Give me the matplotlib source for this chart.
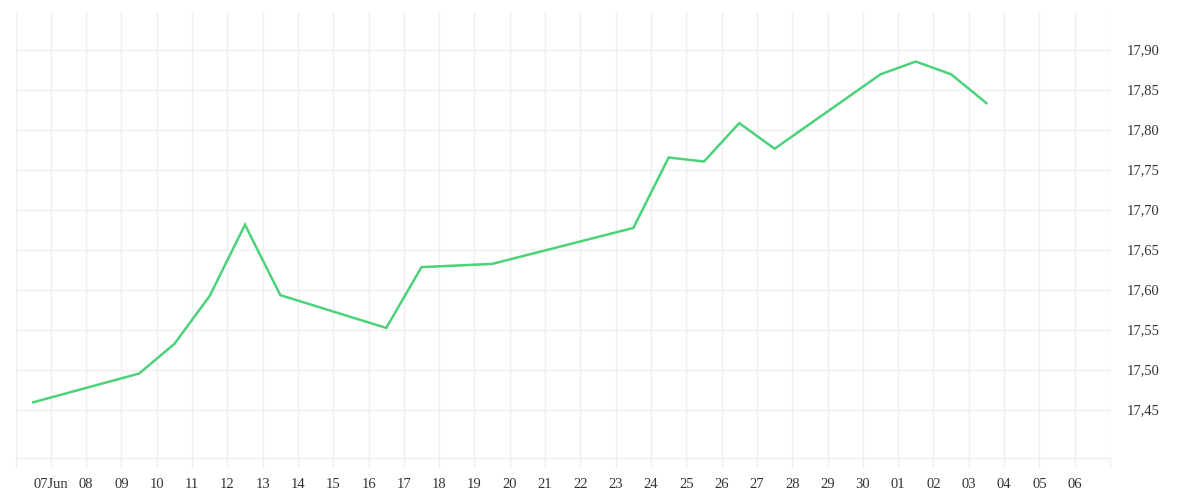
import pandas as pd
import matplotlib
matplotlib.use('Agg')
import matplotlib.pyplot as plt
import matplotlib.dates as mdates

# 数据（从图上读出来的）
dates = ['2025-06-06', '2025-06-09', '2025-06-10', '2025-06-11', '2025-06-12',
         '2025-06-13', '2025-06-16', '2025-06-17', '2025-06-19', '2025-06-23',
         '2025-06-24', '2025-06-25', '2025-06-26', '2025-06-27', '2025-06-30',
         '2025-07-01', '2025-07-02', '2025-07-03']
values = [17.459, 17.495, 17.532, 17.592, 17.681,
          17.593, 17.552, 17.628, 17.632, 17.677,
          17.765, 17.760, 17.808, 17.776, 17.869,
          17.885, 17.869, 17.833]
y_ticks = [17.45, 17.50, 17.55, 17.60, 17.65, 17.70, 17.75, 17.80, 17.85, 17.90]
y_labels = ['17,45', '17,50', '17,55', '17,60', '17,65', '17,70', '17,75', '17,80', '17,85', '17,90']

# 每个点在当天中午
x = pd.to_datetime(dates) + pd.Timedelta(hours=12)

# 横轴刻度：每天一个，首尾不标
tick_days = pd.date_range('2025-06-06', '2025-07-07', freq='D')
tick_labels = [d.strftime('%d') for d in tick_days]
tick_labels[1] = '07Jun'
tick_labels[0] = ''
tick_labels[-1] = ''

plt.rcParams['font.family'] = ['Liberation Serif', 'DejaVu Serif']
grid_c = '#efefef'
text_c = '#333333'

fig = plt.figure(figsize=(12, 5), dpi=100)
ax = fig.add_axes([15.5 / 1200, 42 / 500, (1110 - 15.5) / 1200, (458 - 12) / 500])

ax.plot(x, values, color='#4cd27a', linewidth=1.8, solid_joinstyle='miter')

ax.set_xlim(tick_days[0], tick_days[-1])
ax.set_ylim(17.3894, 17.9469)

ax.set_xticks(tick_days)
ax.set_xticklabels(tick_labels)
ax.set_yticks(y_ticks)
ax.set_yticklabels(y_labels)

ax.yaxis.tick_right()
ax.grid(True, color=grid_c, linewidth=1)
ax.set_axisbelow(True)
for side in ['top', 'left', 'right']:
    ax.spines[side].set_visible(False)
ax.spines['bottom'].set_color(grid_c)
ax.spines['bottom'].set_linewidth(1)

ax.tick_params(axis='x', length=7.2, width=1, color=grid_c, pad=7,
               labelsize=10.5, labelcolor=text_c)
ax.tick_params(axis='y', length=0, pad=12, labelsize=10.5, labelcolor=text_c)
for lab in ax.get_yticklabels():
    lab.set_horizontalalignment('left')

fig.savefig('out.png', dpi=100, facecolor='white')
